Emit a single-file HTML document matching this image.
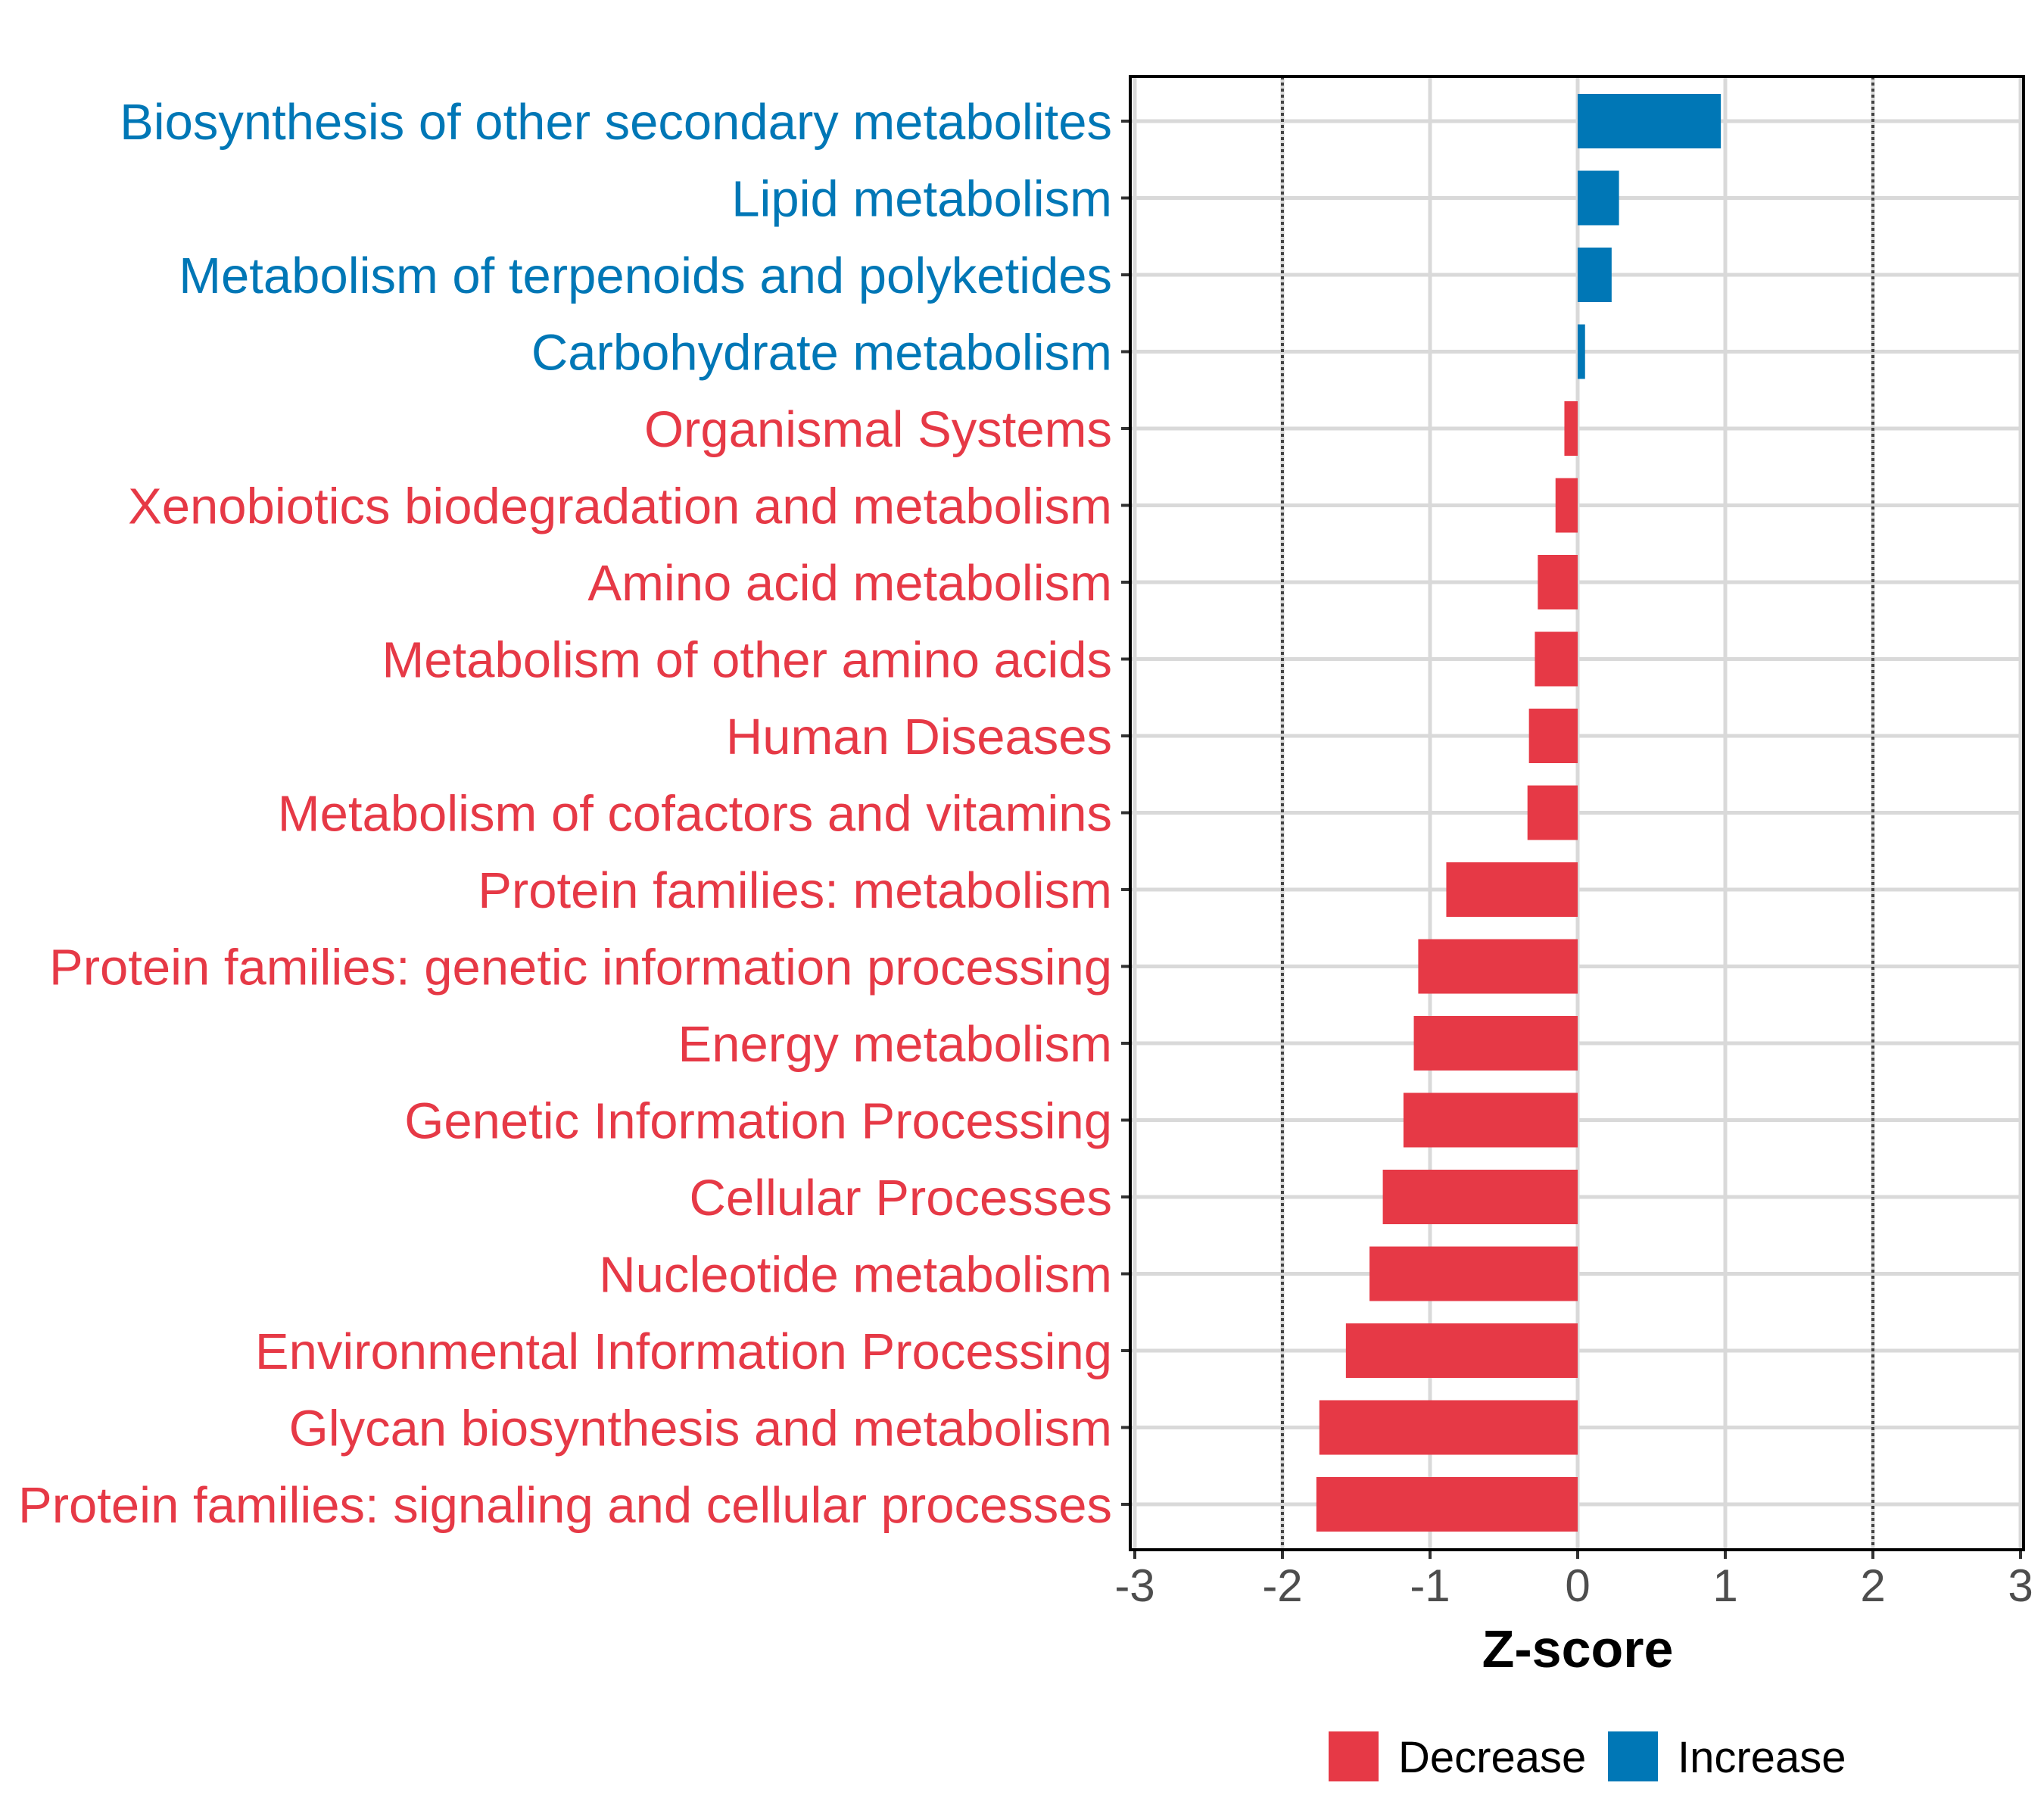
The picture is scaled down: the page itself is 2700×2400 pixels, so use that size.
<!DOCTYPE html>
<html><head><meta charset="utf-8"><style>
html,body{margin:0;padding:0;background:#fff;}
svg{display:block;font-family:"Liberation Sans",sans-serif;}
</style></head><body>
<svg id="chart" width="2700" height="2400" viewBox="0 0 2700 2400">
<g id="grid"></g>
<g id="bars"></g>
<g id="labels"></g>
<g id="xaxis"></g>
<text x="2084" y="2202" text-anchor="middle" font-size="70" font-weight="bold" fill="#000">Z-score</text>
<g>
<rect x="1755" y="2287" width="66" height="66" fill="#E63946"/>
<text x="1847" y="2341" font-size="58" fill="#000">Decrease</text>
<rect x="2124" y="2287" width="66" height="66" fill="#0077B6"/>
<text x="2216" y="2341" font-size="58" fill="#000">Increase</text>
</g>
</svg>
<script>
const categories = ["Biosynthesis of other secondary metabolites","Lipid metabolism","Metabolism of terpenoids and polyketides","Carbohydrate metabolism","Organismal Systems","Xenobiotics biodegradation and metabolism","Amino acid metabolism","Metabolism of other amino acids","Human Diseases","Metabolism of cofactors and vitamins","Protein families: metabolism","Protein families: genetic information processing","Energy metabolism","Genetic Information Processing","Cellular Processes","Nucleotide metabolism","Environmental Information Processing","Glycan biosynthesis and metabolism","Protein families: signaling and cellular processes"];
const zscores = [0.97,0.28,0.23,0.05,-0.09,-0.15,-0.27,-0.29,-0.33,-0.34,-0.89,-1.08,-1.11,-1.18,-1.32,-1.41,-1.57,-1.75,-1.77];
const xTicks = [-3,-2,-1,0,1,2,3];
const xTickLabels = ["-3","-2","-1","0","1","2","3"];
const NS="http://www.w3.org/2000/svg";
const L=1493,R=2673,T=101,B=2047;
const x=v=>2084+v*195;
const y=i=>160+i*101.5;
function mk(tag,attrs,parent){const e=document.createElementNS(NS,tag);for(const k in attrs)e.setAttribute(k,attrs[k]);parent.appendChild(e);return e;}
const grid=document.getElementById('grid'),bars=document.getElementById('bars'),labels=document.getElementById('labels'),xaxis=document.getElementById('xaxis');
xTicks.forEach((t,i)=>{
  const g=mk('line',{x1:x(t),x2:x(t),y1:T,y2:B,stroke:'#d9d9d9','stroke-width':5},grid);
  
  
  const tk=mk('line',{x1:x(t),x2:x(t),y1:B,y2:B+12,stroke:'#333','stroke-width':4},xaxis);
  
  
  const tl=mk('text',{x:x(t),y:B+68,'text-anchor':'middle','font-size':60,fill:'#4d4d4d'},xaxis);
  tl.textContent=xTickLabels[i];
  
  
});
categories.forEach((c,i)=>{
  const g=mk('line',{x1:L,x2:R,y1:y(i),y2:y(i),stroke:'#d9d9d9','stroke-width':5},grid);
  
  
});
[-2,2].forEach(v=>{
  const d=mk('line',{x1:x(v),x2:x(v),y1:T,y2:B,stroke:'#444','stroke-width':4,'stroke-dasharray':'4 4'},grid);
  
  
});
categories.forEach((c,i)=>{
  const v=zscores[i],col=v>=0?'#0077B6':'#E63946';
  const r=mk('rect',{x:Math.min(x(0),x(v)),y:y(i)-36,width:Math.abs(x(v)-x(0)),height:72,fill:col},bars);
  
  
  const tk=mk('line',{x1:L-12,x2:L,y1:y(i),y2:y(i),stroke:'#333','stroke-width':4},labels);
  
  
  const t=mk('text',{x:1469,y:y(i)+24,'text-anchor':'end','font-size':67,fill:col},labels);
  t.textContent=c;
  
  
});
const border=mk('rect',{x:L,y:T,width:R-L,height:B-T,fill:'none',stroke:'#000','stroke-width':4},document.getElementById('chart'));


</script>
</body></html>
